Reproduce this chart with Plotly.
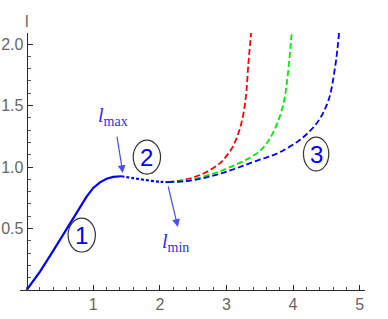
import plotly.graph_objects as go

# ---- data ----
rise_z = [0, 0.2, 0.4, 0.6, 0.8, 0.9, 1.0, 1.1, 1.2, 1.3, 1.42]
rise_l = [0, 0.15, 0.32, 0.50, 0.68, 0.76, 0.83, 0.875, 0.905, 0.92, 0.925]

dip_z = [1.42, 1.6, 1.8, 2.0, 2.12]
dip_l = [0.925, 0.91, 0.893, 0.88, 0.878]

red_z = [2.12, 2.3, 2.5, 2.7, 2.9, 3.0, 3.1, 3.2, 3.26, 3.3, 3.33, 3.355, 3.37]
red_l = [0.878, 0.89, 0.915, 0.96, 1.03, 1.09, 1.17, 1.31, 1.45, 1.62, 1.85, 2.0, 2.09]

green_z = [2.12, 2.4, 2.7, 2.9, 3.1, 3.3, 3.5, 3.6, 3.7, 3.8, 3.87, 3.905, 3.94, 3.965, 3.98]
green_l = [0.878, 0.89, 0.93, 0.965, 1.01, 1.06, 1.13, 1.19, 1.28, 1.41, 1.55, 1.68, 1.85, 2.0, 2.09]

blue_z = [2.12, 2.4, 2.65, 2.9, 3.15, 3.45, 3.76, 4.1, 4.36, 4.53, 4.63, 4.67, 4.69]
blue_l = [0.878, 0.885, 0.91, 0.945, 0.99, 1.05, 1.11, 1.22, 1.36, 1.54, 1.81, 1.98, 2.09]

x_ticks = [1, 2, 3, 4, 5]
y_ticks = [0.5, 1.0, 1.5, 2.0]
y_ticktext = ["0.5", "1.0", "1.5", "2.0"]

region_labels = ["1", "2", "3"]
region_z = [0.827, 1.805, 4.346]
region_l = [0.447, 1.081, 1.106]

# ---- figure ----
fig = go.Figure()
fig.add_trace(go.Scatter(x=rise_z, y=rise_l, mode="lines", line=dict(color="#0000ff", width=2.2)))
fig.add_trace(go.Scatter(x=dip_z, y=dip_l, mode="lines", line=dict(color="#0000ff", width=2.2, dash="3px,2px", shape="spline")))
fig.add_trace(go.Scatter(x=red_z, y=red_l, mode="lines", line=dict(color="#ff0000", width=1.8, dash="6px,3px", shape="spline")))
fig.add_trace(go.Scatter(x=green_z, y=green_l, mode="lines", line=dict(color="#00ee00", width=1.8, dash="6px,3px", shape="spline")))
fig.add_trace(go.Scatter(x=blue_z, y=blue_l, mode="lines", line=dict(color="#0000ff", width=1.8, dash="6px,3px", shape="spline")))

x_range = [-0.1, 5.08]
y_range = [0, 2.09]

axis_col = "#2a2a2a"
tick_font = dict(family="Liberation Sans, Arial", size=16, color="#666666")

fig.update_layout(
    width=388, height=319,
    margin=dict(l=20, r=23, t=33, b=29, autoexpand=False),
    paper_bgcolor="white", plot_bgcolor="white",
    showlegend=False,
    xaxis=dict(
        range=x_range, showgrid=False, zeroline=False, automargin=False,
        showline=True, linecolor=axis_col, linewidth=1,
        tickmode="array", tickvals=x_ticks,
        ticks="inside", ticklen=5, tickcolor=axis_col, tickwidth=1,
        tickfont=tick_font,
        minor=dict(tickmode="linear", tick0=0, dtick=0.2, ticks="inside", ticklen=3, tickcolor="#555555"),
    ),
    yaxis=dict(
        range=y_range, showgrid=False, zeroline=False, automargin=False,
        anchor="free", position=(0 - x_range[0]) / (x_range[1] - x_range[0]),
        showline=True, linecolor=axis_col, linewidth=1,
        tickmode="array", tickvals=y_ticks, ticktext=y_ticktext,
        ticks="inside", ticklen=5, tickcolor=axis_col, tickwidth=1,
        tickfont=tick_font,
        minor=dict(tickmode="linear", tick0=0, dtick=0.1, ticks="inside", ticklen=3, tickcolor="#555555"),
    ),
)

# region circles with numbers
hw, hh = 0.205, 0.138
for lab, cz, cl in zip(region_labels, region_z, region_l):
    w = hw if lab != "3" else 0.19
    fig.add_shape(type="circle", xref="x", yref="y",
                  x0=cz - w, x1=cz + w, y0=cl - hh, y1=cl + hh,
                  line=dict(color="#333333", width=1.2))
    fig.add_annotation(x=cz, y=cl, xref="x", yref="y", text=lab, showarrow=False,
                       font=dict(family="Liberation Sans Narrow, Liberation Sans, Arial", size=24, color="#0000ff"))

arrow_col = "#4a4aff"
label_font = dict(family="Liberation Serif, Times New Roman, serif", size=20, color="#2a2aff")

# l_max
fig.add_annotation(x=1.444, y=0.951, ax=1.353, ay=1.26, xref="x", yref="y", axref="x", ayref="y",
                   text="", showarrow=True, arrowhead=2, arrowsize=1.3, arrowwidth=1.2, arrowcolor=arrow_col)
fig.add_annotation(x=1.293, y=1.41, xref="x", yref="y", showarrow=False,
                   text="<i>l</i><sub>max</sub>", font=label_font)
# l_min
fig.add_annotation(x=2.27, y=0.512, ax=2.12, ay=0.854, xref="x", yref="y", axref="x", ayref="y",
                   text="", showarrow=True, arrowhead=2, arrowsize=1.3, arrowwidth=1.2, arrowcolor=arrow_col)
fig.add_annotation(x=2.24, y=0.39, xref="x", yref="y", showarrow=False,
                   text="<i>l</i><sub>min</sub>", font=label_font)

# axis titles
fig.add_annotation(x=0, y=1.0 + 22 / 257, xref="x", yref="paper", showarrow=False,
                   text="l", font=dict(family="Liberation Sans, Arial", size=16, color="#666666"))
fig.add_annotation(x=5.16, y=0, xref="x", yref="y", xanchor="left", showarrow=False,
                   text="z<sub>*</sub>", font=dict(family="Liberation Sans, Arial", size=16, color="#666666"))

fig.write_html("out.html", config={"displayModeBar": False},
               post_script="document.body.style.margin='0px';document.body.style.padding='0px';")
